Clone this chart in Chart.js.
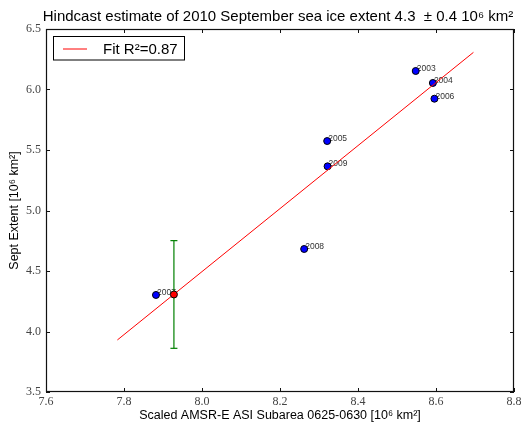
<!DOCTYPE html>
<html lang="en">
<head>
<meta charset="UTF-8">
<title>Hindcast estimate</title>
<script src="https://cdn.jsdelivr.net/npm/chart.js"></script>
<style>body{margin:0;background:#fff}</style>
</head>
<body>
<canvas id="iceChart" width="525" height="429"></canvas>
<script>
// data
const years = ['2003', '2004', '2005', '2006', '2007', '2008', '2009'];
const asiArea = [8.548, 8.592, 8.321, 8.596, 7.882, 8.262, 8.322];
const septExtent = [6.153, 6.054, 5.574, 5.924, 4.302, 4.682, 5.365];
const fitX = [7.783, 8.696];
const fitY = [3.930, 6.307];
const estX = 7.928;
const estY = 4.306;
const estErr = 0.445;
const titleText = 'Hindcast estimate of 2010 September sea ice extent 4.3  \u00b1 0.4 10\u2076 km\u00b2';
const legendText = 'Fit R\u00b2=0.87';

const sans = '"Liberation Sans", Arial, sans-serif';
const serif = '"Liberation Serif", "DejaVu Serif", serif';

const decor = {
    id: 'decor',
    beforeDatasetsDraw(chart) {
        const {ctx, scales: {x, y}} = chart;
        ctx.save();
        ctx.font = '8.5px ' + sans;
        ctx.fillStyle = '#333';
        ctx.textBaseline = 'alphabetic';
        years.forEach((yr, i) => {
            ctx.fillText(yr, x.getPixelForValue(asiArea[i]) + 1, y.getPixelForValue(septExtent[i]));
        });
        ctx.restore();
    },
    afterDraw(chart) {
        const {ctx, chartArea: a, scales: {x, y}} = chart;
        ctx.save();
        // frame
        ctx.strokeStyle = '#111';
        ctx.lineWidth = 1.2;
        ctx.strokeRect(a.left + 0.5, a.top + 0.5, a.right - a.left - 1, a.bottom - a.top - 1);
        // inward ticks on all sides
        ctx.lineWidth = 1;
        ctx.beginPath();
        x.ticks.forEach(t => {
            const px = Math.round(x.getPixelForValue(t.value)) + 0.5;
            ctx.moveTo(px, a.bottom); ctx.lineTo(px, a.bottom - 4);
            ctx.moveTo(px, a.top); ctx.lineTo(px, a.top + 4);
        });
        y.ticks.forEach(t => {
            const py = Math.round(y.getPixelForValue(t.value)) + 0.5;
            ctx.moveTo(a.left, py); ctx.lineTo(a.left + 4, py);
            ctx.moveTo(a.right, py); ctx.lineTo(a.right - 4, py);
        });
        ctx.stroke();
        // title
        ctx.fillStyle = '#000';
        ctx.font = '15px ' + sans;
        ctx.textAlign = 'center';
        ctx.textBaseline = 'alphabetic';
        ctx.fillText(titleText, (a.left + a.right) / 2 - 2, 21);
        // legend
        ctx.strokeStyle = '#000';
        ctx.strokeRect(53.5, 36.5, 131, 23.5);
        ctx.strokeStyle = 'red';
        ctx.beginPath();
        ctx.moveTo(63, 49); ctx.lineTo(87, 49);
        ctx.stroke();
        ctx.textAlign = 'left';
        ctx.font = '15px ' + sans;
        ctx.fillText(legendText, 103, 54);
        ctx.restore();
    }
};

new Chart(document.getElementById('iceChart'), {
    type: 'scatter',
    data: {
        datasets: [
            {
                label: 'estimate',
                data: [{x: estX, y: estY}],
                backgroundColor: 'red',
                borderColor: '#000',
                borderWidth: 1,
                pointRadius: 3.5
            },
            {
                label: 'fit',
                type: 'line',
                data: fitX.map((v, i) => ({x: v, y: fitY[i]})),
                borderColor: 'red',
                borderWidth: 1,
                pointRadius: 0
            },
            {
                label: 'years',
                data: asiArea.map((v, i) => ({x: v, y: septExtent[i]})),
                backgroundColor: '#0000ff',
                borderColor: '#000',
                borderWidth: 1,
                pointRadius: 3.5
            },
            {
                label: 'error',
                type: 'line',
                data: [{x: estX, y: estY - estErr}, {x: estX, y: estY + estErr}],
                borderColor: '#008000',
                borderWidth: 1.2,
                pointStyle: 'line',
                pointRadius: 3.5,
                pointBorderColor: '#008000',
                pointBorderWidth: 1.2
            }
        ]
    },
    options: {
        responsive: false,
        animation: false,
        events: [],
        layout: {padding: {top: 29, right: 11, left: 0, bottom: 0}},
        plugins: {
            legend: {display: false},
            tooltip: {enabled: false}
        },
        scales: {
            x: {
                type: 'linear',
                min: 7.6,
                max: 8.8,
                afterFit: s => { s.height = 37; },
                grid: {display: false, drawTicks: false},
                border: {display: false},
                ticks: {
                    stepSize: 0.2,
                    padding: 3,
                    color: '#444',
                    font: {family: serif, size: 12},
                    callback: v => v.toFixed(1)
                },
                title: {
                    display: true,
                    text: 'Scaled AMSR-E ASI Subarea 0625-0630 [10\u2076 km\u00b2]',
                    color: '#000',
                    font: {family: sans, size: 12.5},
                    padding: {bottom: 6}
                }
            },
            y: {
                type: 'linear',
                min: 3.5,
                max: 6.5,
                afterFit: s => { s.width = 46; },
                grid: {display: false, drawTicks: false},
                border: {display: false},
                ticks: {
                    stepSize: 0.5,
                    padding: 5,
                    color: '#444',
                    font: {family: serif, size: 12},
                    callback: v => v.toFixed(1)
                },
                title: {
                    display: true,
                    text: 'Sept Extent [10\u2076 km\u00b2]',
                    color: '#000',
                    font: {family: sans, size: 12.5},
                    padding: {top: 7}
                }
            }
        }
    },
    plugins: [decor]
});
</script>
</body>
</html>
